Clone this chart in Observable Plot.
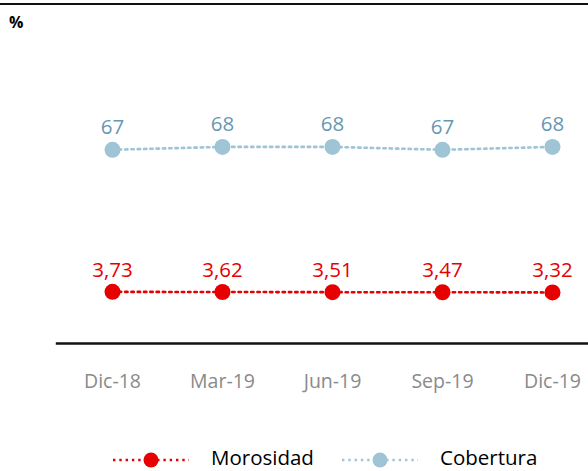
<!DOCTYPE html>
<html><head><meta charset="utf-8">
<script src="https://cdn.jsdelivr.net/npm/d3@7"></script>
<script src="https://cdn.jsdelivr.net/npm/@observablehq/plot@0.6"></script>
<style>
html,body{margin:0;padding:0;background:#fff;overflow:hidden;width:588px;height:471px;}
body{position:relative;font-family:"Open Sans",sans-serif;}
#topline{position:absolute;left:0;top:3px;width:588px;height:2px;background:#111;}
#pct{position:absolute;left:9px;top:12px;font-weight:bold;font-size:16px;color:#000;line-height:20px;}
#chart{position:absolute;left:0;top:0;width:608px;}
#chart svg{max-width:none !important;}
.leg{position:absolute;height:22px;}
.legtext{position:absolute;top:449px;font-size:20.5px;line-height:17px;color:#000;white-space:nowrap;}
</style></head>
<body>
<div id="topline"></div>
<div id="pct">%</div>
<div id="chart"></div>
<div id="legend"></div>
<script>
const periods = ["Dic-18","Mar-19","Jun-19","Sep-19","Dic-19"];
const morosidad = [3.73,3.62,3.51,3.47,3.32];
const cobertura = [67,68,68,67,68];
const seriesNames = ["Morosidad","Cobertura"];
const colMor = "#e60000", colCob = "#9ec4d6", colCobText = "#6797b3";

// secondary axis for Morosidad (mapped onto the primary 0..100 axis)
const y2 = d3.scaleLinear().domain([-32,168]).range([0,100]);
const cob = periods.map((p,i)=>({period:p, v:cobertura[i], y:cobertura[i]}));
const mor = periods.map((p,i)=>({period:p, v:morosidad[i], y:y2(morosidad[i])}));
const fmt = v => d3.format(".2f")(v).replace(".", ",");

const chart = Plot.plot({
  width:608, height:440,
  marginLeft:55.8, marginRight:0, marginTop:53.9, marginBottom:97,
  x:{type:"point", domain:periods, padding:0.5, label:null},
  y:{domain:[0,100], axis:null},
  style:{fontFamily:"Open Sans", background:"transparent", overflow:"visible", maxWidth:"none"},
  marks:[
    Plot.ruleY([0], {stroke:"#111", strokeWidth:2.5}),
    Plot.axisX({tickSize:0, tickPadding:31, fontSize:19.5, fill:"#8a8a8a", label:null}),
    Plot.line(cob, {x:"period", y:"y", stroke:colCob, strokeWidth:2.6, strokeDasharray:"2.4,3.9"}),
    Plot.dot(cob, {x:"period", y:"y", r:8, fill:colCob}),
    Plot.text(cob, {x:"period", y:"y", text:d=>String(d.v), dy:-16, lineAnchor:"bottom", fontSize:20.5, fill:colCobText}),
    Plot.line(mor, {x:"period", y:"y", stroke:colMor, strokeWidth:2.6, strokeDasharray:"2.4,3.9"}),
    Plot.dot(mor, {x:"period", y:"y", r:8, fill:colMor}),
    Plot.text(mor, {x:"period", y:"y", text:d=>fmt(d.v), dy:-15, lineAnchor:"bottom", fontSize:20.5, fill:colMor})
  ]
});
document.getElementById("chart").appendChild(chart);

// legend
const legend = document.getElementById("legend");
const items = [
  {name:seriesNames[0], color:colMor, swLeft:113, textLeft:211},
  {name:seriesNames[1], color:colCob, swLeft:342, textLeft:440}
];
items.forEach(it=>{
  const svg = d3.create("svg").attr("class","leg").attr("width",76).attr("height",22)
    .style("left", it.swLeft+"px").style("top", "449px");
  svg.append("line").attr("x1",0).attr("x2",76).attr("y1",11).attr("y2",11)
    .attr("stroke",it.color).attr("stroke-width",2.6).attr("stroke-dasharray","2.4,3.9");
  svg.append("circle").attr("cx",38).attr("cy",11).attr("r",7.5).attr("fill",it.color);
  legend.appendChild(svg.node());
  const t = document.createElement("div");
  t.className = "legtext"; t.style.left = it.textLeft+"px"; t.textContent = it.name;
  legend.appendChild(t);
});
</script>
</body></html>
